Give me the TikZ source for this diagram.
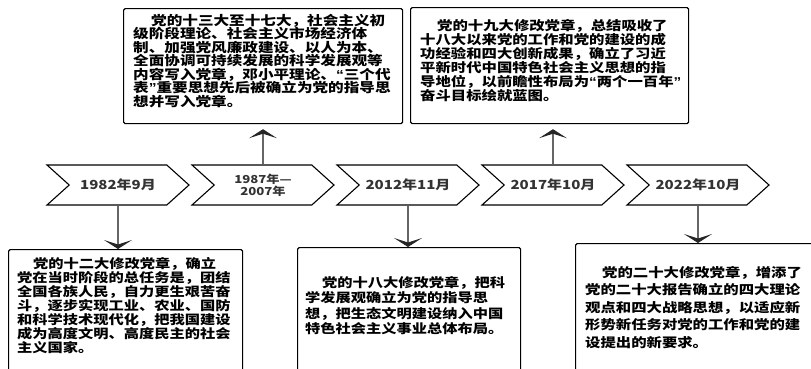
\documentclass[tikz,border=0pt]{standalone}
\usepackage{fontspec}
\newfontfamily\cjk[FakeStretch=1.2]{Noto Sans CJK SC}
\newfontfamily\qf[FakeStretch=1.2]{Liberation Sans}
\newcommand{\myql}{{\qf\bfseries “}}
\newcommand{\myqr}{{\qf\bfseries ”}}
\usetikzlibrary{shapes.symbols,arrows.meta}
\begin{document}
\begin{tikzpicture}[x=1pt,y=-1pt,
  chev/.style={shape=signal, signal to=east, signal from=west, signal pointer angle=84,
    draw=black, line width=1.1pt, minimum width=142pt, minimum height=40pt, inner sep=0pt,
    align=center, font=\cjk\bfseries\fontsize{12.5}{13}\selectfont, text=black!80},
  box/.style={draw=black, line width=1.2pt, rounded corners=1.5pt, inner sep=0pt, anchor=north west},
  txt/.style={anchor=north west, inner sep=0pt, align=left},
  arr/.style={line width=2pt, draw=black!60, -{Stealth[width=28pt,length=9pt,inset=4.5pt,black!85]}}
]
\useasboundingbox (0,0) rectangle (811,368);

% timeline chevrons
\node[chev] (c1) at (118,185) {1982年9月};
\node[chev, font=\cjk\bfseries\fontsize{11}{12}\selectfont] (c2) at (263,185) {1987年—\\2007年};
\node[chev] (c3) at (408,185) {2012年11月};
\node[chev] (c4) at (553,185) {2017年10月};
\node[chev] (c5) at (698,185) {2022年10月};

% boxes
\node[box, minimum width=279pt, minimum height=115pt] (b1) at (123,8) {};
\node[box, minimum width=278pt, minimum height=116pt] (b2) at (410,7) {};
\node[box, minimum width=234pt, minimum height=130pt] (b3) at (8,249) {};
\node[box, minimum width=223pt, minimum height=132pt] (b4) at (297,247) {};
\node[box, minimum width=240pt, minimum height=136pt] (b5) at (575,243) {};

% texts
\node[txt, font=\cjk\bfseries\fontsize{13}{13.5}\selectfont] (t1) at (133,14) {%
\hspace*{18pt}党的十三大至十七大，社会主义初\\
级阶段理论、社会主义市场经济体\\
制、加强党风廉政建设、以人为本、\\
全面协调可持续发展的科学发展观等\\
内容写入党章，邓小平理论、\myql 三个代\\
表\myqr 重要思想先后被确立为党的指导思\\
想并写入党章。};

\node[txt, font=\cjk\bfseries\fontsize{12.8}{14}\selectfont] (t2) at (420,19) {%
\hspace*{17pt}党的十九大修改党章，总结吸收了\\
十八大以来党的工作和党的建设的成\\
功经验和四大创新成果，确立了习近\\
平新时代中国特色社会主义思想的指\\
导地位，以前瞻性布局为\myql 两个一百年\myqr\\
奋斗目标绘就蓝图。};

\node[txt, font=\cjk\bfseries\fontsize{12.7}{14}\selectfont] (t3) at (17,257) {%
\hspace*{16pt}党的十二大修改党章，确立\\
党在当时阶段的总任务是，团结\\
全国各族人民，自力更生艰苦奋\\
斗，逐步实现工业、农业、国防\\
和科学技术现代化，把我国建设\\
成为高度文明、高度民主的社会\\
主义国家。};

\node[txt, font=\cjk\bfseries\fontsize{12.7}{15.5}\selectfont] (t4) at (305,276) {%
\hspace*{17pt}党的十八大修改党章，把科\\
学发展观确立为党的指导思\\
想，把生态文明建设纳入中国\\
特色社会主义事业总体布局。};

\node[txt, font=\cjk\bfseries\fontsize{12.8}{17.5}\selectfont] (t5) at (585,266) {%
\hspace*{17pt}党的二十大修改党章，增添了\\
党的二十大报告确立的四大理论\\
观点和四大战略思想，以适应新\\
形势新任务对党的工作和党的建\\
设提出的新要求。};

% arrows
\draw[arr, shorten >=5pt] (c2.north) -- (c2.north |- b1.south);
\draw[arr, shorten >=5pt] (c4.north) -- (c4.north |- b2.south);
\draw[arr] (c1.south) -- (c1.south |- b3.north);
\draw[arr] (c3.south) -- (c3.south |- b4.north);
\draw[arr] (c5.south) -- (c5.south |- b5.north);
\end{tikzpicture}
\end{document}
